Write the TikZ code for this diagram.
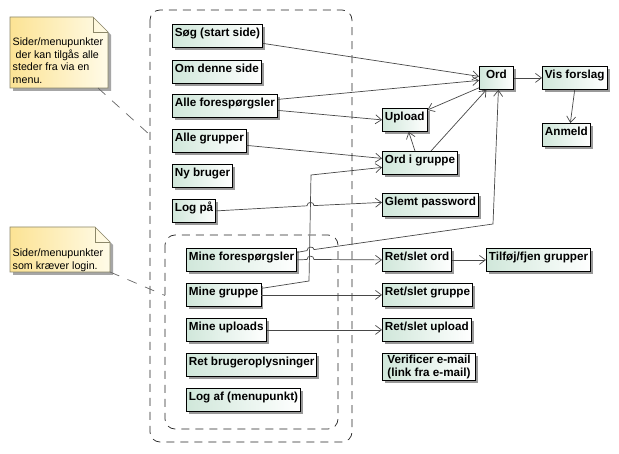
\documentclass[tikz,border=0pt]{standalone}
\usepackage{fontspec}
\setmainfont{Liberation Sans}
\usetikzlibrary{arrows.meta,shadows}
\definecolor{pageL}{RGB}{208,231,218}
\definecolor{noteL}{RGB}{252,227,148}
\definecolor{noteR}{RGB}{255,251,232}
\definecolor{noteline}{RGB}{140,135,105}
\definecolor{linkc}{RGB}{72,72,72}
\tikzset{
	boxbase/.style={draw=black, line width=0.8pt, left color=pageL, right color=white,
		anchor=north west, inner xsep=2.5pt, minimum width=34pt, align=center,
		font=\fontsize{11.7}{12.5}\selectfont\bfseries,
		drop shadow={shadow xshift=2.5pt, shadow yshift=-2.5pt, fill=black!40, opacity=1}},
	pagebox/.style={boxbase, inner ysep=0pt, text height=12.2pt, text depth=10.8pt},
	twobox/.style={boxbase, inner xsep=5pt, inner ysep=1pt, minimum height=27pt},
	link/.style={draw=linkc, line width=0.7pt, -{Straight Barb[length=6pt,width=9pt]}},
	grp/.style={draw=black!85, line width=0.7pt, dash pattern=on 8pt off 6pt, rounded corners=10pt},
	notelink/.style={draw=black!60, line width=0.7pt, dash pattern=on 10pt off 9pt},
	notebox/.style={draw=noteline, line width=0.7pt, left color=noteL, right color=noteR},
	notetext/.style={anchor=north west, inner sep=0pt, align=left, font=\fontsize{10.7}{12.4}\selectfont},
}
\begin{document}
\begin{tikzpicture}[x=1pt,y=-1pt]
		\path[use as bounding box, fill=white] (0,0) rectangle (619,454);
		% Gruppen
		\draw[grp] (150,10) rectangle (352,442);
		\draw[grp] (165,235) rectangle (338,429);
		% Notiz 1
		\fill[black!35] (13,20) -- (96,20) -- (111,35) -- (111,91) -- (13,91) -- cycle;
		\path[notebox] (10,17) -- (93,17) -- (108,32) -- (108,88) -- (10,88) -- cycle;
		\draw[noteline, line width=0.7pt] (93,17) -- (93,32) -- (108,32);
		\node[notetext] (note1) at (12.5,38) {Sider/menupunkter\\\ der kan tilgås alle\\steder fra via en\\menu.};
		% Notiz 2
		\fill[black!35] (13,230) -- (98,230) -- (113,245) -- (113,275) -- (13,275) -- cycle;
		\path[notebox] (10,227) -- (95,227) -- (110,242) -- (110,272) -- (10,272) -- cycle;
		\draw[noteline, line width=0.7pt] (95,227) -- (95,242) -- (110,242);
		\node[notetext] (note2) at (12.5,249) {Sider/menupunkter\\som kræver login.};
		\coordinate (n1a) at (98,88);
		\coordinate (n1b) at (150,135);
		\coordinate (n2a) at (110,272);
		\coordinate (n2b) at (165,295.5);
		\draw[notelink] (n1a) -- (n1b);
		\draw[notelink] (n2a) -- (n2b);
		% Menu (alle)
		\node[pagebox] (soeg) at (172,24) {Søg (start side)};
		\node[pagebox] (om) at (172,60) {Om denne side};
		\node[pagebox] (allefor) at (172,94) {Alle forespørgsler};
		\node[pagebox] (allegrp) at (172,129) {Alle grupper};
		\node[pagebox] (nybruger) at (172,164) {Ny bruger};
		\node[pagebox] (logpaa) at (172,199) {Log på};
		% Menu (login)
		\node[pagebox] (minefor) at (186,248) {Mine forespørgsler};
		\node[pagebox] (minegrp) at (186,283) {Mine gruppe};
		\node[pagebox] (mineupl) at (186,318) {Mine uploads};
		\node[pagebox] (retbruger) at (186,353) {Ret brugeroplysninger};
		\node[pagebox] (logaf) at (186,388) {Log af (menupunkt)};
		% Sider
		\node[pagebox] (ord) at (479,66) {Ord};
		\node[pagebox] (visforslag) at (542,66) {Vis forslag};
		\node[pagebox] (anmeld) at (542,123) {Anmeld};
		\node[pagebox] (upload) at (382,108) {Upload};
		\node[pagebox] (ordgrp) at (382,151) {Ord i gruppe};
		\node[pagebox] (glemt) at (382,193) {Glemt password};
		\node[pagebox] (retord) at (382,248) {Ret/slet ord};
		\node[pagebox] (tilfoej) at (486,248) {Tilføj/fjen grupper};
		\node[pagebox] (retgrp) at (382,283) {Ret/slet gruppe};
		\node[pagebox] (retupl) at (382,318) {Ret/slet upload};
		\node[twobox] (verif) at (382,353) {Verificer e-mail\\(link fra e-mail)};
		% Links
		\draw[link] ([yshift=-7.5pt]soeg.east) -- ([yshift=1.5pt]ord.west);
		\draw[link] ([yshift=6.5pt]allefor.east) -- ([yshift=-2.5pt]ord.west);
		\draw[link] ([yshift=-4.5pt]allefor.east) -- (upload.west);
		\draw[link] ([yshift=-4.5pt]allegrp.east) -- ([yshift=4.5pt]ordgrp.west);
		\draw[link] ([yshift=6.5pt]minegrp.east) -- (309,281) -- (311,175) -- ([yshift=-4.5pt]ordgrp.west);
		\draw[link] (logpaa.east) -- (307,205.8) .. controls (307,201.3) and (314,201.3) .. (314,205.6) -- ([yshift=2.5pt]glemt.west);
		\draw[link] ([yshift=7.5pt]minefor.east) -- (307,250.6) .. controls (307,246.1) and (314,246.1) .. (314,249.6) -- (493,224) -- ([xshift=2pt]ord.south);
		\draw[link] (minefor.east) -- (307,259.5) .. controls (307,255) and (314,255) .. (314,259.5) -- (retord.west);
		\draw[link] (minegrp.east) -- (retgrp.west);
		\draw[link] (mineupl.east) -- (retupl.west);
		\draw[link] (retord.east) -- (tilfoej.west);
		\draw[link] (ord.east) -- (visforslag.west);
		\draw[link] (visforslag.south) -- ([xshift=4pt]anmeld.north);
		\draw[link] ([yshift=2pt]ord.south west) -- ([yshift=-2pt]upload.north east);
		\draw[link] ([xshift=-5pt]ordgrp.north) -- ([xshift=4pt]upload.south);
		\draw[link] ([xshift=11pt]ordgrp.north) -- ([xshift=-10pt]ord.south);
\end{tikzpicture}
\end{document}
